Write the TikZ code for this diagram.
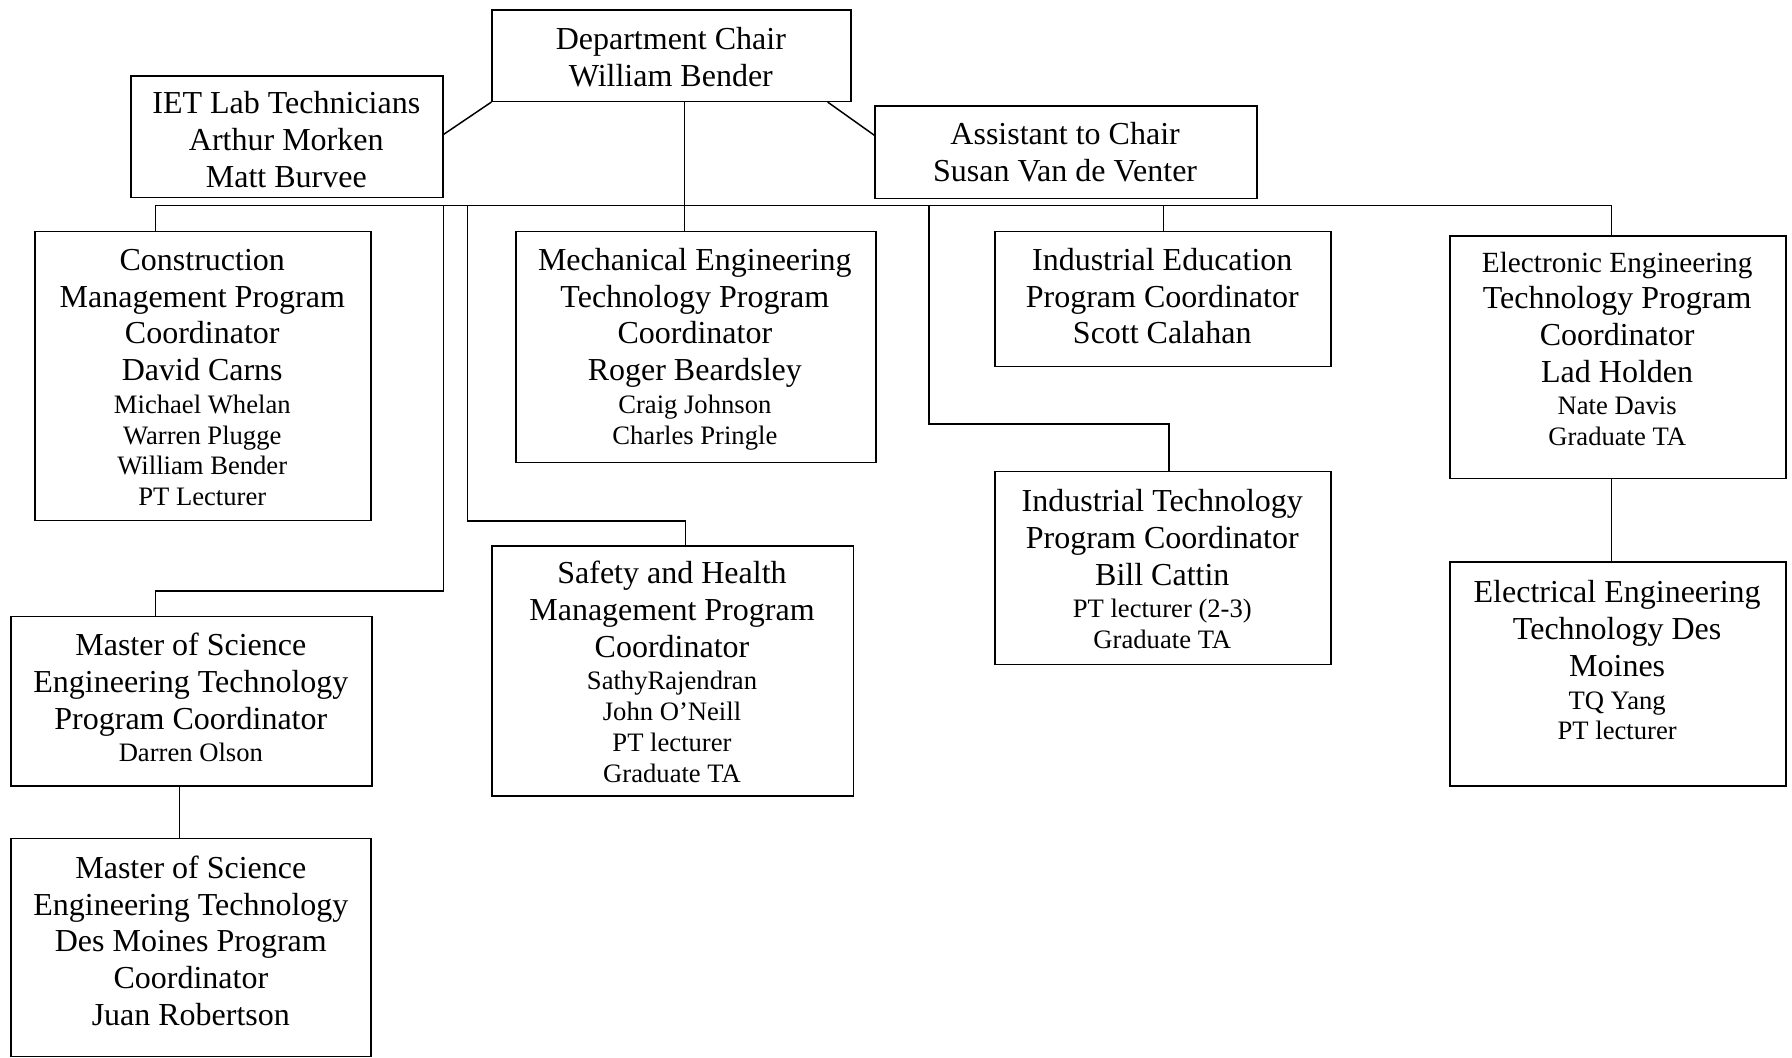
\documentclass[tikz,border=0pt]{standalone}
\usepackage{fontspec}
\setmainfont{Liberation Serif}
\usetikzlibrary{calc}
\newcommand{\fB}{\fontsize{28}{32.2}\selectfont}
\newcommand{\fS}{\fontsize{23.3}{27}\selectfont}
\newcommand{\fM}{\fontsize{25.6}{29.5}\selectfont}
\newcommand{\StrutB}{\rule[-9.7pt]{0pt}{32.2pt}}
\newcommand{\StrutS}{\rule[-8.2pt]{0pt}{27pt}}
\newcommand{\StrutM}{\rule[-8.9pt]{0pt}{29.5pt}}
\newcommand{\Lb}[1]{\fB\StrutB #1}
\newcommand{\Ls}[1]{\fS\StrutS #1}
\newcommand{\Lm}[1]{\fM\StrutM #1}
\newcommand{\Lines}[1]{{\renewcommand{\arraystretch}{0}\setlength{\tabcolsep}{0pt}\begin{tabular}[t]{c}#1\end{tabular}}}
\tikzset{
  box/.style={draw, line width=1.3pt, inner sep=0pt, anchor=north west},
  sz/.style 2 args={minimum width=#1pt, minimum height=#2pt},
  txt/.style={inner sep=0pt, anchor=base},
  wire/.style={line width=1.3pt}
}
\begin{document}
\begin{tikzpicture}[x=1pt,y=-1pt]
\useasboundingbox (0,0) rectangle (1568,925);
% boxes
\node[box, sz={314}{80}]  (dept) at (430,8) {};
\node[box, sz={273}{106}] (iet)  at (114,66) {};
\node[box, sz={334}{81}]  (asst) at (765,92) {};
\node[box, sz={294}{253}] (cm)   at (30,202) {};
\node[box, sz={315}{202}] (me)   at (451,202) {};
\node[box, sz={294}{118}] (ie)   at (870,202) {};
\node[box, sz={294}{212}] (ee)   at (1268,206) {};
\node[box, sz={294}{169}] (it)   at (870,412) {};
\node[box, sz={294}{196}] (eedm) at (1268,491) {};
\node[box, sz={316}{148}] (ms)   at (9,539) {};
\node[box, sz={316}{219}] (sh)   at (430,477) {};
\node[box, sz={315}{191}] (msdm) at (9,733) {};
% texts
\node[txt] (tdept) at (587,43.5) {\Lines{\Lb{Department Chair}\\\Lb{William Bender}}};
\node[txt] (tiet) at (250.5,99.5) {\Lines{\Lb{IET Lab Technicians}\\\Lb{Arthur Morken}\\\Lb{Matt Burvee}}};
\node[txt] (tasst) at (932,126.5) {\Lines{\Lb{Assistant to Chair}\\\Lb{Susan Van de Venter}}};
\node[txt] (tcm) at (177,236.5) {\Lines{\Lb{Construction}\\\Lb{Management Program}\\\Lb{Coordinator}\\\Lb{David Carns}\\\Ls{Michael Whelan}\\\Ls{Warren Plugge}\\\Ls{William Bender}\\\Ls{PT Lecturer}}};
\node[txt] (tme) at (608,236.5) {\Lines{\Lb{Mechanical Engineering}\\\Lb{Technology Program}\\\Lb{Coordinator}\\\Lb{Roger Beardsley}\\\Ls{Craig Johnson}\\\Ls{Charles Pringle}}};
\node[txt] (tie) at (1017,236.5) {\Lines{\Lb{Industrial Education}\\\Lb{Program Coordinator}\\\Lb{Scott Calahan}}};
\node[txt] (tee) at (1415,238.5) {\Lines{\Lm{Electronic Engineering}\\\Lb{Technology Program}\\\Lb{Coordinator}\\\Lb{Lad Holden}\\\Ls{Nate Davis}\\\Ls{Graduate TA}}};
\node[txt] (tit) at (1017,447.5) {\Lines{\Lb{Industrial Technology}\\\Lb{Program Coordinator}\\\Lb{Bill Cattin}\\\Ls{PT lecturer (2-3)}\\\Ls{Graduate TA}}};
\node[txt] (teedm) at (1415,527.5) {\Lines{\Lb{Electrical Engineering}\\\Lb{Technology Des}\\\Lb{Moines}\\\Ls{TQ Yang}\\\Ls{PT lecturer}}};
\node[txt] (tms) at (167,573.5) {\Lines{\Lb{Master of Science}\\\Lb{Engineering Technology}\\\Lb{Program Coordinator}\\\Ls{Darren Olson}}};
\node[txt] (tsh) at (588,510.5) {\Lines{\Lb{Safety and Health}\\\Lb{Management Program}\\\Lb{Coordinator}\\\Ls{SathyRajendran}\\\Ls{John O’Neill}\\\Ls{PT lecturer}\\\Ls{Graduate TA}}};
\node[txt] (tmsdm) at (167,768.5) {\Lines{\Lb{Master of Science}\\\Lb{Engineering Technology}\\\Lb{Des Moines Program}\\\Lb{Coordinator}\\\Lb{Juan Robertson}}};
% connector helper coordinates
\coordinate (bL) at (136,180);
\coordinate (bR) at (1410,180);
\coordinate (bMS) at (388,180);
\coordinate (bSH) at (409,180);
\coordinate (bIT) at (813,180);
\coordinate (bIE) at (1018,180);
\coordinate (kMS) at (136,517);
\coordinate (kSH) at (600,456);
\coordinate (kIT) at (1023,371);
\coordinate (xme) at (599,0);
\coordinate (xms) at (157,0);
% connectors
\draw[wire] (dept.south west) -- ($(iet.north east)!0.48!(iet.south east)$);
\draw[wire] ($(dept.south west)!0.933!(dept.south east)$) -- ($(asst.north west)!0.32!(asst.south west)$);
\draw[wire] (dept.south -| xme) -- (me.north -| xme);
\draw[wire] (cm.north -| bL) -- (bL) -- (bR) -- (ee.north -| bR);
\draw[wire] (bMS) |- (kMS) -- (ms.north -| kMS);
\draw[wire] (bSH) |- (kSH) -- (sh.north -| kSH);
\draw[wire] (bIT) |- (kIT) -- (it.north -| kIT);
\draw[wire] (bIE) -- (ie.north -| bIE);
\draw[wire] (ee.south -| bR) -- (eedm.north -| bR);
\draw[wire] (ms.south -| xms) -- (msdm.north -| xms);
\end{tikzpicture}
\end{document}
